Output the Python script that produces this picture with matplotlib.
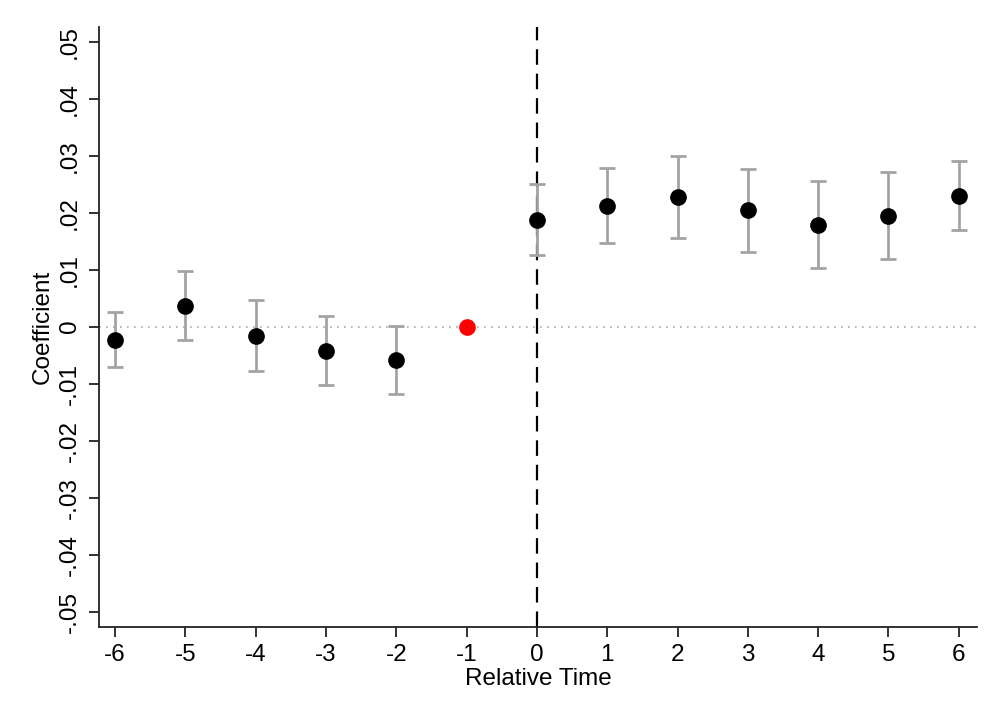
import matplotlib
matplotlib.use("Agg")
import matplotlib.pyplot as plt

plt.rcParams['font.family'] = ['Liberation Sans', 'DejaVu Sans']

rel_time = [-6, -5, -4, -3, -2, -1, 0, 1, 2, 3, 4, 5, 6]
coef = [-0.0023, 0.0036, -0.0016, -0.0042, -0.0059, 0.0, 0.0188, 0.0212, 0.0227, 0.0204, 0.0179, 0.0195, 0.0230]
ci_low = [-0.0071, -0.0024, -0.0077, -0.0102, -0.0118, None, 0.0126, 0.0146, 0.0155, 0.0131, 0.0103, 0.0119, 0.0169]
ci_high = [0.0026, 0.0098, 0.0047, 0.0018, 0.0001, None, 0.0250, 0.0278, 0.0300, 0.0276, 0.0255, 0.0271, 0.0290]
ref_period = -1

yticks = [-0.05, -0.04, -0.03, -0.02, -0.01, 0, 0.01, 0.02, 0.03, 0.04, 0.05]
ytick_labels = ['-.05', '-.04', '-.03', '-.02', '-.01', '0', '.01', '.02', '.03', '.04', '.05']
xticks = rel_time
xtick_labels = [str(v) for v in rel_time]

fig = plt.figure(figsize=(10, 7.27), dpi=100)
ax = fig.add_axes([0.099, 0.1376, 0.878, 0.8254])

ax.axhline(0, color='#aaaaaa', lw=1.2, ls=(0, (1, 3.2)), zorder=1)
ax.axvline(0, color='black', lw=1.6, ls=(0, (7, 4)), zorder=1)

ex = [x for x, lo in zip(rel_time, ci_low) if lo is not None]
ey = [c for c, lo in zip(coef, ci_low) if lo is not None]
elo = [c - lo for c, lo in zip(coef, ci_low) if lo is not None]
ehi = [hi - c for c, hi in zip(coef, ci_high) if hi is not None]
ax.errorbar(ex, ey, yerr=[elo, ehi], fmt='none', ecolor='#a3a3a3',
            elinewidth=2.0, capsize=6, capthick=2.0, zorder=2)

bx = [x for x in rel_time if x != ref_period]
by = [c for x, c in zip(rel_time, coef) if x != ref_period]
ax.plot(bx, by, 'o', color='black', markersize=11, zorder=3)
rx = [x for x in rel_time if x == ref_period]
ry = [c for x, c in zip(rel_time, coef) if x == ref_period]
ax.plot(rx, ry, 'o', color='#ff0000', markersize=11, zorder=3)

ax.set_xlim(-6.23, 6.26)
ax.set_ylim(-0.0527, 0.0526)
ax.set_yticks(yticks)
ax.set_yticklabels(ytick_labels, rotation=90, va='center', fontsize=17.5)
ax.set_xticks(xticks)
ax.set_xticklabels(xtick_labels, fontsize=17.5)

for s in ['top', 'right']:
    ax.spines[s].set_visible(False)
for s in ['left', 'bottom']:
    ax.spines[s].set_linewidth(1.3)
    ax.spines[s].set_color('#222222')
ax.tick_params(direction='out', length=7, width=1.3, color='#222222')
ax.tick_params(axis='y', pad=6)
ax.tick_params(axis='x', pad=5)

ax.set_xlabel('Relative Time', fontsize=17.5, labelpad=2)
ax.set_ylabel('Coefficient', fontsize=17.5, labelpad=4)

fig.savefig('out.png', dpi=100, facecolor='white')
